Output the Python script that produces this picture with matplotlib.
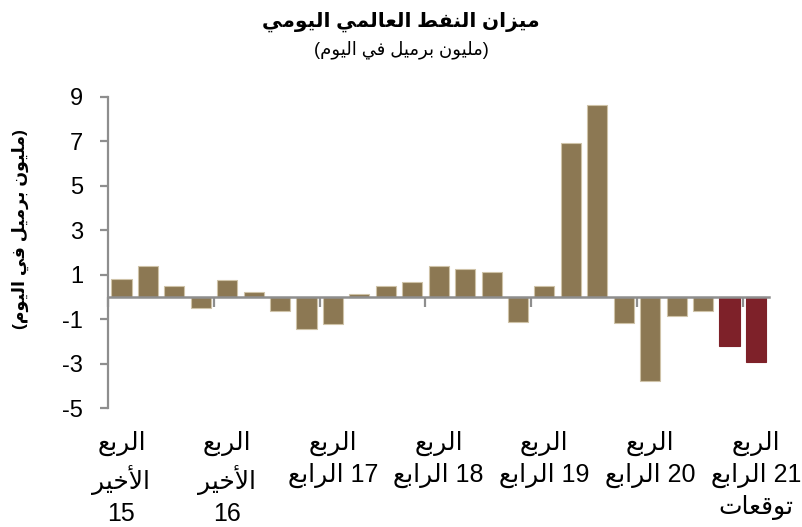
import matplotlib
matplotlib.use("Agg")
import matplotlib.pyplot as plt
import numpy as np

# ---------------- Arabic shaping helper (visual order) ----------------
FORMS = {
    '\u0621': ('\uFE80', None, None, None),
    '\u0622': ('\uFE81', '\uFE82', None, None),
    '\u0623': ('\uFE83', '\uFE84', None, None),
    '\u0624': ('\uFE85', '\uFE86', None, None),
    '\u0625': ('\uFE87', '\uFE88', None, None),
    '\u0626': ('\uFE89', '\uFE8A', '\uFE8B', '\uFE8C'),
    '\u0627': ('\uFE8D', '\uFE8E', None, None),
    '\u0628': ('\uFE8F', '\uFE90', '\uFE91', '\uFE92'),
    '\u0629': ('\uFE93', '\uFE94', None, None),
    '\u062A': ('\uFE95', '\uFE96', '\uFE97', '\uFE98'),
    '\u062B': ('\uFE99', '\uFE9A', '\uFE9B', '\uFE9C'),
    '\u062C': ('\uFE9D', '\uFE9E', '\uFE9F', '\uFEA0'),
    '\u062D': ('\uFEA1', '\uFEA2', '\uFEA3', '\uFEA4'),
    '\u062E': ('\uFEA5', '\uFEA6', '\uFEA7', '\uFEA8'),
    '\u062F': ('\uFEA9', '\uFEAA', None, None),
    '\u0630': ('\uFEAB', '\uFEAC', None, None),
    '\u0631': ('\uFEAD', '\uFEAE', None, None),
    '\u0632': ('\uFEAF', '\uFEB0', None, None),
    '\u0633': ('\uFEB1', '\uFEB2', '\uFEB3', '\uFEB4'),
    '\u0634': ('\uFEB5', '\uFEB6', '\uFEB7', '\uFEB8'),
    '\u0635': ('\uFEB9', '\uFEBA', '\uFEBB', '\uFEBC'),
    '\u0636': ('\uFEBD', '\uFEBE', '\uFEBF', '\uFEC0'),
    '\u0637': ('\uFEC1', '\uFEC2', '\uFEC3', '\uFEC4'),
    '\u0638': ('\uFEC5', '\uFEC6', '\uFEC7', '\uFEC8'),
    '\u0639': ('\uFEC9', '\uFECA', '\uFECB', '\uFECC'),
    '\u063A': ('\uFECD', '\uFECE', '\uFECF', '\uFED0'),
    '\u0641': ('\uFED1', '\uFED2', '\uFED3', '\uFED4'),
    '\u0642': ('\uFED5', '\uFED6', '\uFED7', '\uFED8'),
    '\u0643': ('\uFED9', '\uFEDA', '\uFEDB', '\uFEDC'),
    '\u0644': ('\uFEDD', '\uFEDE', '\uFEDF', '\uFEE0'),
    '\u0645': ('\uFEE1', '\uFEE2', '\uFEE3', '\uFEE4'),
    '\u0646': ('\uFEE5', '\uFEE6', '\uFEE7', '\uFEE8'),
    '\u0647': ('\uFEE9', '\uFEEA', '\uFEEB', '\uFEEC'),
    '\u0648': ('\uFEED', '\uFEEE', None, None),
    '\u0649': ('\uFEEF', '\uFEF0', None, None),
    '\u064A': ('\uFEF1', '\uFEF2', '\uFEF3', '\uFEF4'),
}
LAMALEF = {
    '\u0622': ('\uFEF5', '\uFEF6'),
    '\u0623': ('\uFEF7', '\uFEF8'),
    '\u0625': ('\uFEF9', '\uFEFA'),
    '\u0627': ('\uFEFB', '\uFEFC'),
}


def _shape(s):
    units = []
    i = 0
    while i < len(s):
        c = s[i]
        if c == '\u0644' and i + 1 < len(s) and s[i + 1] in LAMALEF:
            units.append(('LA', s[i + 1]))
            i += 2
        else:
            units.append(('C', c))
            i += 1

    def joins_next(u):
        if u[0] == 'LA':
            return False
        f = FORMS.get(u[1])
        return f is not None and f[2] is not None

    def is_ar(u):
        return u[0] == 'LA' or u[1] in FORMS

    out = []
    for k, u in enumerate(units):
        prev = units[k - 1] if k > 0 else None
        nxt = units[k + 1] if k + 1 < len(units) else None
        jp = prev is not None and joins_next(prev)
        if u[0] == 'LA':
            iso, fin = LAMALEF[u[1]]
            out.append(fin if jp else iso)
            continue
        f = FORMS.get(u[1])
        if f is None:
            out.append(u[1])
            continue
        jn = nxt is not None and is_ar(nxt) and f[2] is not None
        if jp and jn:
            out.append(f[3])
        elif jp:
            out.append(f[1] if f[1] else f[0])
        elif jn:
            out.append(f[2])
        else:
            out.append(f[0])
    return ''.join(out)


def ar(s):
    return _shape(s)[::-1]


# ---------------- Data ----------------
quarters = ["Q4-15", "Q1-16", "Q2-16", "Q3-16", "Q4-16", "Q1-17", "Q2-17", "Q3-17",
            "Q4-17", "Q1-18", "Q2-18", "Q3-18", "Q4-18", "Q1-19", "Q2-19", "Q3-19",
            "Q4-19", "Q1-20", "Q2-20", "Q3-20", "Q4-20", "Q1-21", "Q2-21", "Q3-21",
            "Q4-21"]
balance = [0.83, 1.38, 0.48, -0.48, 0.78, 0.24, -0.63, -1.44, -1.23, 0.12, 0.48, 0.69,
           1.38, 1.28, 1.14, -1.11, 0.51, 6.91, 8.62, -1.17, -3.78, -0.87, -0.63,
           -2.22, -2.94]
forecast = [False] * 23 + [True, True]

label_years = ["15", "16", "17", "18", "19", "20", "21"]
y_ticks = [-5, -3, -1, 1, 3, 5, 7, 9]

title_txt = "ميزان النفط العالمي اليومي"
unit_txt = "مليون برميل في اليوم"
w_quarter = "الربع"
w_last = "الأخير"
w_fourth = "الرابع"
w_forecast = "توقعات"

# ---------------- Styling ----------------
plt.rcParams['font.family'] = ['Liberation Sans', 'DejaVu Sans']
BROWN = '#8C7853'
RED = '#7E2129'
GRAY = '#8E8E8E'

fig = plt.figure(figsize=(8.02, 5.27), dpi=100)
ax = fig.add_axes([0.135, 0.2253, 0.824, 0.5912])

x = np.arange(len(quarters))
colors = [RED if f else BROWN for f in forecast]
edges = [RED if f else '#CFC3A8' for f in forecast]
ax.bar(x, balance, width=0.76, color=colors, edgecolor=edges, linewidth=0.8, zorder=2)

ax.set_xlim(-0.5, len(quarters) - 0.5)
ax.set_ylim(min(y_ticks), max(y_ticks))
ax.set_yticks(y_ticks)
ax.set_yticklabels([str(v) for v in y_ticks])

for s in ['top', 'right']:
    ax.spines[s].set_visible(False)
ax.spines['left'].set_color(GRAY)
ax.spines['left'].set_linewidth(1.6)
ax.spines['bottom'].set_position(('data', 0))
ax.spines['bottom'].set_color(GRAY)
ax.spines['bottom'].set_linewidth(1.8)
ax.spines['bottom'].set_zorder(3)

# boundaries between year groups
bounds = np.arange(-0.5, len(quarters) - 1, 4)
ax.set_xticks(bounds)
ax.set_xticklabels([''] * len(bounds))
ax.tick_params(axis='x', direction='out', length=7, width=1.6, color=GRAY)
ax.tick_params(axis='y', direction='out', length=6, width=1.6, color=GRAY,
               labelsize=17, pad=12, labelcolor='black')

# category labels at the bottom
labels = []
for i, yr in enumerate(label_years):
    if i < 2:
        labels.append(ar(w_quarter) + "\n" + ar(w_last) + "\n" + yr)
    elif i == len(label_years) - 1:
        labels.append(ar(w_quarter) + "\n" + ar(w_fourth) + " " + yr + "\n" + ar(w_forecast))
    else:
        labels.append(ar(w_quarter) + "\n" + ar(w_fourth) + " " + yr)
label_pos = x[::4]

sec = ax.secondary_xaxis('bottom')
sec.set_xticks(label_pos)
sec.set_xticklabels(labels, fontsize=18, linespacing=1.38)
sec.tick_params(axis='x', length=0, pad=16)
sec.spines['bottom'].set_visible(False)

# titles
fig.text(0.5, 1 - 22 / 527, ar(title_txt), ha='center', va='center',
         fontsize=14.5, fontweight='bold')
fig.text(0.5, 1 - 50 / 527, "(" + ar(unit_txt) + ")", ha='center', va='center',
         fontsize=13)
fig.text(20 / 802, 1 - 229 / 527, "(" + ar(unit_txt) + ")", ha='center', va='center',
         rotation=90, fontsize=12.5, fontweight='bold')

fig.savefig("out.png", dpi=100)
